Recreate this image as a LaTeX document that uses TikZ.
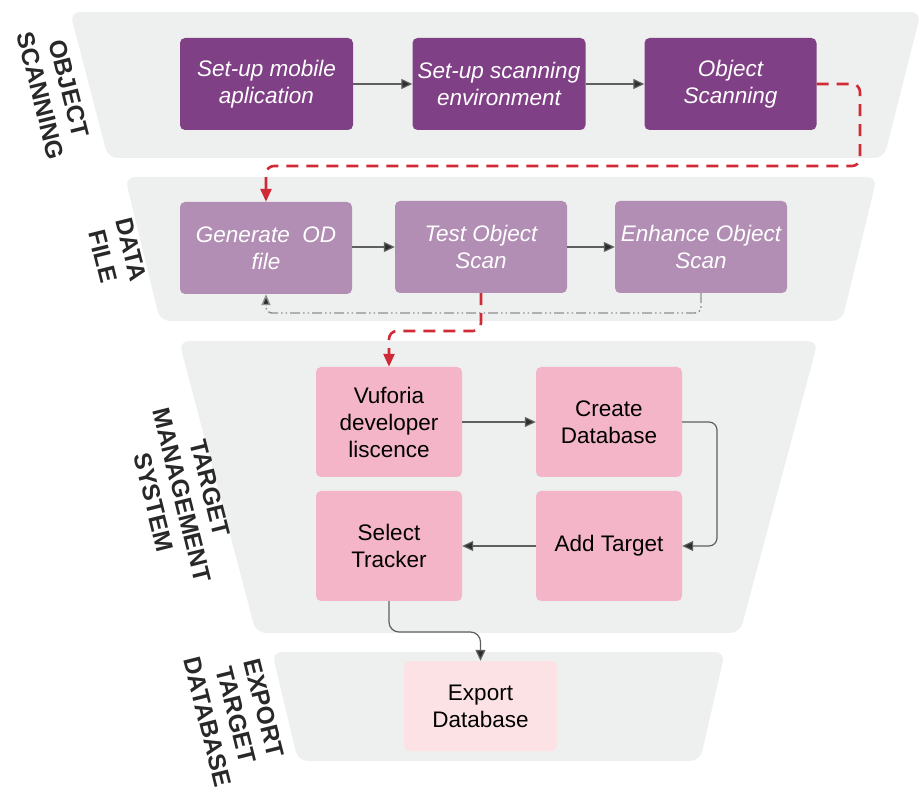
\documentclass[tikz,border=0pt]{standalone}
\usepackage{fontspec}
\setmainfont{Liberation Sans}
\usetikzlibrary{arrows.meta}

\definecolor{bandgray}{RGB}{238,239,239}
\definecolor{darkplum}{RGB}{128,64,134}
\definecolor{lightplum}{RGB}{178,142,181}
\definecolor{rosebox}{RGB}{244,181,201}
\definecolor{palerose}{RGB}{253,226,229}
\definecolor{flowred}{RGB}{208,42,54}
\definecolor{linegray}{RGB}{95,95,95}
\definecolor{tipgray}{RGB}{45,45,45}
\definecolor{labelgray}{RGB}{40,40,40}

\tikzset{
  band/.style={fill=bandgray, rounded corners=10pt},
  boxbase/.style={rectangle, rounded corners=5pt, align=center, inner sep=0pt,
    font=\fontsize{22.5}{27}\selectfont},
  stageA/.style={boxbase, fill=darkplum, text=white, font=\fontsize{22.5}{27}\selectfont\itshape},
  stageB/.style={boxbase, fill=lightplum, text=white, font=\fontsize{22.5}{27}\selectfont\itshape},
  stageC/.style={boxbase, fill=rosebox, text=black},
  stageD/.style={boxbase, fill=palerose, text=black},
  phase/.style={align=center, text=labelgray, rotate=-76,
    font=\fontsize{24.5}{29}\selectfont\bfseries},
  flow/.style={draw=linegray, line width=1.2pt,
    -{Triangle[length=11pt,width=10pt,fill=tipgray]}},
  redflow/.style={draw=flowred, line width=2.6pt, dash pattern=on 12pt off 8pt,
    rounded corners=8pt, -{Triangle[length=13pt,width=11pt,fill=flowred]}},
  backflow/.style={draw=linegray!70, line width=1.4pt,
    dash pattern=on 10pt off 3pt on 1.5pt off 3pt on 1.5pt off 3pt,
    rounded corners=6pt, -{Triangle[length=11pt,width=9pt,fill=tipgray]}},
}

\begin{document}
\begin{tikzpicture}[x=1pt, y=-1pt]
\useasboundingbox (0,0) rectangle (922,799);

% stage bands
\fill[band] (70,12) -- (921,12) -- (884,158) -- (108,158) -- cycle;
\fill[band] (125,177) -- (877,177) -- (842,321) -- (160,321) -- cycle;
\fill[band] (179,341) -- (818,341) -- (740,633) -- (256,633) -- cycle;
\fill[band] (272,652) -- (725,652) -- (700,761) -- (298,761) -- cycle;

% stage labels
\node[phase] (l1) at (55,92) {OBJECT\\SCANNING};
\node[phase] (l2) at (117,253) {DATA\\FILE};
\node[phase] (l3) at (182,495) {TARGET\\MANAGEMENT\\SYSTEM};
\node[phase] (l4) at (236,715) {EXPORT\\TARGET\\DATABASE};

% object scanning
\node[stageA, minimum width=173pt, minimum height=92pt] (a1) at (266.5,84) {Set-up mobile\\aplication};
\node[stageA, minimum width=173pt, minimum height=92pt] (a2) at (499,84) {Set-up scanning\\environment};
\node[stageA, minimum width=172pt, minimum height=92pt] (a3) at (730.5,84) {Object\\Scanning};

% data file
\node[stageB, minimum width=172pt, minimum height=92pt] (b1) at (266,248) {Generate~~OD\\file};
\node[stageB, minimum width=172pt, minimum height=92pt] (b2) at (481,247) {Test Object\\Scan};
\node[stageB, minimum width=172pt, minimum height=92pt] (b3) at (701,247) {Enhance Object\\Scan};

% target management system
\node[stageC, minimum width=146pt, minimum height=110pt] (c1) at (389,422) {Vuforia\\developer\\liscence};
\node[stageC, minimum width=146pt, minimum height=110pt] (c2) at (609,422) {Create\\Database};
\node[stageC, minimum width=146pt, minimum height=110pt] (c3) at (389,546) {Select\\Tracker};
\node[stageC, minimum width=146pt, minimum height=110pt] (c4) at (609,546) {Add Target};

% export
\node[stageD, minimum width=153pt, minimum height=90pt] (e1) at (480.5,706) {Export\\Database};

% routing points
\coordinate (r1) at (860,166);
\coordinate (r2) at (481,331);
\coordinate (d1) at (701,313);
\coordinate (k1) at (717,480);
\coordinate (m1) at (389,632);

% connectors
\draw[flow] (a1) -- (a2);
\draw[flow] (a2) -- (a3);
\draw[redflow] (a3.east) -| (r1) -| (b1.north);
\draw[flow] (b1.east |- b2) -- (b2);
\draw[flow] (b2) -- (b3);
\draw[backflow] (b3.south) -- (d1) -| (b1.south);
\draw[redflow] (b2.south) -- (r2) -| (c1.north);
\draw[flow] (c1) -- (c2);
\draw[flow, rounded corners=8pt] (c2.east) -| (k1) |- (c4.east);
\draw[flow] (c4) -- (c3);
\draw[flow, rounded corners=10pt] (c3.south) -- (m1) -| (e1.north);
\end{tikzpicture}
\end{document}
